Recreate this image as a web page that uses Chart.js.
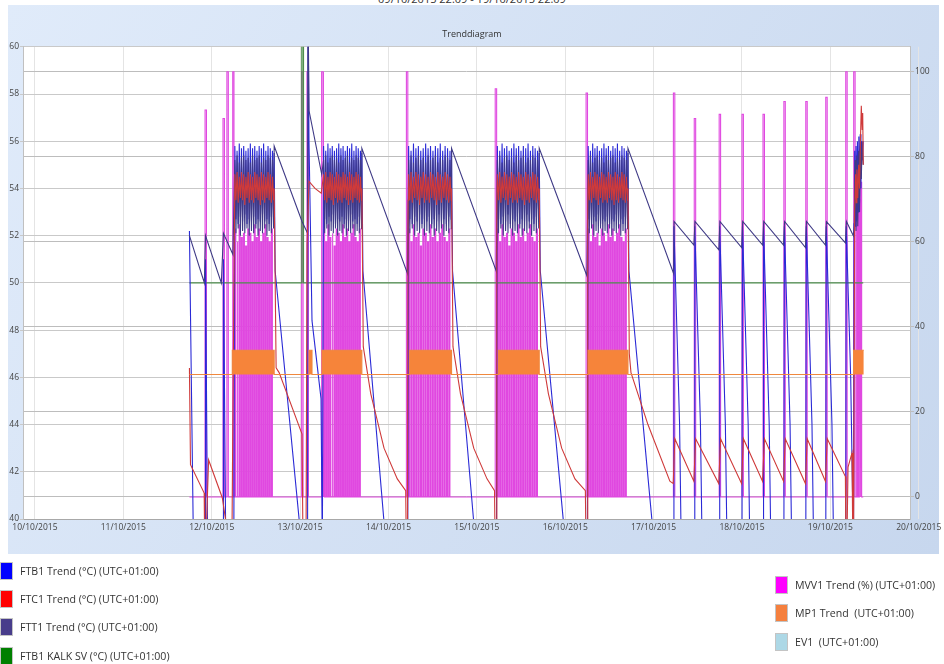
<!DOCTYPE html>
<html>
<head>
<meta charset="utf-8">
<script src="https://cdn.jsdelivr.net/npm/chart.js@4.4.1/dist/chart.umd.min.js"></script>
<style>
  html, body { margin: 0; padding: 0; background: #fff; width: 944px; height: 664px; overflow: hidden; font-family: "Open Sans", sans-serif; }
  #rubrik { position: absolute; left: 0; top: -9px; width: 944px; text-align: center; font-size: 11px; color: #333; }
  #diagram { position: absolute; left: 0; top: 0; }
  .lg { position: absolute; font-size: 10.6px; color: #333; display: flex; align-items: center; white-space: nowrap; height: 18px; }
  .lg i { display: inline-block; width: 11px; height: 16px; border: 1px solid #c4c4c4; margin-right: 7px; }
</style>
</head>
<body>
<div id="rubrik">09/10/2015 22:09 - 19/10/2015 22:09</div>
<canvas id="diagram" width="944" height="664"></canvas>
<div id="legend"></div>
<script>
// ------------------------------------------------------------
// Trenddiagram 09/10 - 19/10/2015
// Tid = dagar efter 10/10/2015 00:00
// ------------------------------------------------------------

const dagEtiketter = ['10/10/2015', '11/10/2015', '12/10/2015', '13/10/2015', '14/10/2015',
    '15/10/2015', '16/10/2015', '17/10/2015', '18/10/2015', '19/10/2015', '20/10/2015'];

// laddningsperioder (tätt pendlande värden)
const laddStart = [2.262, 3.266, 4.228, 5.232, 6.260];
const laddSlut = [2.700, 3.695, 4.710, 5.700, 6.705];

// pendling under laddning (topp/botten omväxlande)
const ftb1Pendel = [55.8, 52.7, 55.6, 52.5, 55.9, 52.8, 55.7, 52.6, 55.8, 52.9, 55.6, 52.5, 55.7, 52.7, 55.9, 52.6, 55.7, 52.8,
    55.8, 52.5, 55.6, 52.7, 55.8, 52.6, 55.7, 52.9, 55.9, 52.6, 55.6, 52.7, 55.8, 52.5, 55.7, 52.8, 55.6, 52.7];
const ftt1Pendel = [55.2, 52.1, 55.4, 52.3, 55.1, 52.0, 55.3, 52.2, 55.4, 52.1, 55.2, 52.3, 55.3, 52.0, 55.1, 52.2, 55.4, 52.1,
    55.2, 52.3, 55.3, 52.0, 55.4, 52.2, 55.1, 52.1, 55.3, 52.3, 55.2, 52.0, 55.4, 52.2, 55.3, 52.1, 55.2, 52.3];
const ftc1Pendel = [54.6, 53.5, 54.7, 53.4, 54.5, 53.6, 54.7, 53.5, 54.6, 53.3, 54.5, 53.6, 54.7, 53.4, 54.6, 53.5, 54.5, 53.4,
    54.7, 53.6, 54.6, 53.5, 54.5, 53.3, 54.7, 53.5, 54.6, 53.4, 54.5, 53.6, 54.7, 53.5, 54.6, 53.4, 54.5, 53.5];
const mvvPendelTopp = [63, 60, 64, 61, 62, 59, 63, 62, 60, 64, 61, 63, 60, 62, 64, 61, 60, 63];

// FTB1 Trend (°C)
const ftb1Punkter = [
    [1.748, 52.2], [1.795, 38.5],
    [1.925, 38.5], [1.930, 51.0], [1.955, 38.5],
    [2.128, 38.5], [2.133, 51.0], [2.160, 38.5], [2.250, 38.5],
    [2.707, 55.5], [2.718, 50.5], [2.989, 40.0], [3.000, 38.5],
    [3.085, 38.5], [3.090, 62.0], [3.101, 56.0], [3.135, 48.4], [3.237, 45.1], [3.252, 38.5],
    [3.699, 55.5], [3.711, 50.5], [3.947, 40.0], [3.960, 38.5], [4.218, 38.5],
    [4.714, 55.5], [4.725, 50.5], [4.962, 40.0], [4.975, 38.5], [5.222, 38.5],
    [5.706, 55.5], [5.718, 50.5], [5.977, 40.0], [5.990, 38.5], [6.250, 38.5],
    [6.710, 55.5], [6.721, 50.5], [6.980, 40.0], [6.992, 38.5],
    [7.224, 38.5], [7.230, 52.4], [7.294, 44.0], [7.314, 38.5],
    [7.460, 38.5], [7.466, 52.4], [7.530, 44.0], [7.550, 38.5],
    [7.742, 38.5], [7.748, 52.4], [7.812, 44.0], [7.832, 38.5],
    [8.000, 38.5], [8.006, 52.4], [8.070, 44.0], [8.090, 38.5],
    [8.238, 38.5], [8.244, 52.4], [8.308, 44.0], [8.328, 38.5],
    [8.474, 38.5], [8.480, 52.4], [8.544, 44.0], [8.564, 38.5],
    [8.722, 38.5], [8.728, 52.4], [8.792, 44.0], [8.812, 38.5],
    [8.948, 38.5], [8.954, 52.4], [9.018, 44.0], [9.038, 38.5],
    [9.174, 38.5], [9.180, 52.4], [9.230, 46.0], [9.262, 38.5],
    [9.268, 52.5], [9.275, 55.6], [9.282, 52.4], [9.290, 55.8], [9.298, 52.6], [9.306, 56.0], [9.314, 53.0],
    [9.322, 56.2], [9.330, 53.4], [9.338, 56.3], [9.346, 54.0], [9.354, 56.0], [9.362, 55.2], [9.372, 56.0]
];

// FTC1 Trend (°C)
const ftc1Punkter = [
    [1.748, 46.4], [1.760, 42.3], [1.915, 41.1], [1.922, 38.5], [1.930, 38.5], [1.965, 42.5],
    [2.120, 40.9], [2.216, 38.5], [2.228, 38.5], [2.236, 42.6],
    [2.707, 54.0], [2.729, 46.4], [2.763, 46.2], [3.022, 43.6], [3.034, 38.5], [3.067, 38.5],
    [3.079, 51.6], [3.101, 54.3], [3.169, 54.0], [3.240, 53.8],
    [3.699, 54.0], [3.715, 47.3], [3.800, 45.3], [3.950, 43.0], [4.100, 41.7], [4.195, 41.2], [4.203, 38.5], [4.215, 38.5], [4.222, 53.5],
    [4.714, 54.0], [4.730, 47.3], [4.815, 45.3], [4.965, 43.0], [5.115, 41.7], [5.200, 41.2], [5.208, 38.5], [5.218, 38.5], [5.226, 53.5],
    [5.706, 54.0], [5.722, 47.3], [5.810, 45.3], [5.960, 43.0], [6.110, 41.7], [6.228, 41.2], [6.236, 38.5], [6.248, 38.5], [6.255, 53.5],
    [6.710, 54.0], [6.725, 47.0], [6.744, 46.2], [6.936, 44.0], [7.184, 41.6], [7.222, 41.5],
    [7.240, 43.4], [7.455, 41.6], [7.476, 43.4], [7.737, 41.5], [7.758, 43.4], [7.995, 41.5],
    [8.016, 43.4], [8.232, 41.6], [8.254, 43.4], [8.470, 41.6], [8.490, 43.4], [8.718, 41.5],
    [8.738, 43.4], [8.944, 41.6], [8.965, 43.4], [9.170, 41.8], [9.176, 38.5], [9.186, 38.5],
    [9.200, 42.2], [9.245, 42.8], [9.255, 38.5], [9.262, 38.5],
    [9.275, 53.0], [9.285, 54.6], [9.293, 53.4], [9.300, 54.8], [9.310, 53.6], [9.320, 55.0],
    [9.330, 54.0], [9.340, 56.0], [9.350, 57.5], [9.360, 56.5], [9.366, 57.2], [9.372, 55.0]
];

// FTT1 Trend (°C)
const ftt1Punkter = [
    [1.748, 52.0], [1.917, 50.0], [1.930, 52.0], [2.109, 50.0], [2.133, 52.1], [2.240, 51.2],
    [2.707, 55.8], [3.022, 52.6], [3.085, 52.1], [3.090, 62.0], [3.101, 57.3], [3.245, 54.6],
    [3.699, 55.7], [4.215, 50.4],
    [4.714, 55.7], [5.220, 50.5],
    [5.706, 55.7], [6.245, 50.3],
    [6.710, 55.7], [7.226, 50.4],
    [7.232, 52.6], [7.456, 51.6], [7.468, 52.6], [7.738, 51.4], [7.750, 52.6], [7.996, 51.5],
    [8.008, 52.6], [8.234, 51.6], [8.246, 52.6], [8.470, 51.6], [8.482, 52.6], [8.718, 51.5],
    [8.730, 52.6], [8.944, 51.6], [8.956, 52.6], [9.170, 51.7], [9.182, 52.6], [9.260, 52.0],
    [9.270, 52.4], [9.280, 55.2], [9.290, 52.2], [9.300, 55.4], [9.310, 52.4], [9.320, 55.6],
    [9.330, 53.0], [9.340, 55.8], [9.350, 54.4], [9.360, 56.0], [9.372, 55.0]
];

// FTB1 KALK SV (°C)
const kalkPunkter = [[1.748, 50], [3.020, 50], [3.020, 62], [3.038, 62], [3.038, 50], [9.372, 50]];

// MVV1 Trend (%) - enstaka pulser utanför laddning
const mvvStart = 1.748;
const mvvSlut = 9.372;
const mvvPulsStart = [1.925, 2.128, 2.172, 2.238, 3.018, 3.078, 3.244, 4.203, 5.208, 6.236,
    7.224, 7.460, 7.742, 8.000, 8.238, 8.474, 8.722, 8.948, 9.174, 9.264, 9.292, 9.310, 9.328, 9.346];
const mvvPulsSlut = [1.941, 2.144, 2.188, 2.252, 3.034, 3.094, 3.260, 4.219, 5.224, 6.252,
    7.240, 7.476, 7.758, 8.016, 8.254, 8.490, 8.738, 8.964, 9.190, 9.280, 9.300, 9.318, 9.336, 9.354];
const mvvPulsTopp = [91, 89, 100, 100, 100, 100, 100, 100, 96, 95,
    95, 89, 90, 90, 90, 93, 93, 94, 100, 100, 72, 76, 70, 74];

// MP1 Trend
const mp1Punkter = [
    [1.748, 28.8], [2.233, 28.8], [2.233, 34.5], [2.707, 34.5], [2.707, 28.8],
    [3.101, 28.8], [3.101, 34.5], [3.135, 34.5], [3.135, 28.8],
    [3.248, 28.8], [3.248, 34.5], [3.699, 34.5], [3.699, 28.8],
    [4.240, 28.8], [4.240, 34.5], [4.714, 34.5], [4.714, 28.8],
    [5.244, 28.8], [5.244, 34.5], [5.706, 34.5], [5.706, 28.8],
    [6.259, 28.8], [6.259, 34.5], [6.710, 34.5], [6.710, 28.8],
    [9.262, 28.8], [9.262, 34.5], [9.378, 34.5]
];

// EV1 - inga synliga värden
const ev1Punkter = [];

// ── hjälpfunktioner ──────────────────────────────────────────
function tillXY(lista) {
    return lista.map(p => ({ x: p[0], y: p[1] }));
}

function medPendling(lista, pendel) {
    const p = tillXY(lista);
    laddStart.forEach((s, b) => {
        const steg = (laddSlut[b] - s) / (pendel.length - 1);
        pendel.forEach((v, i) => p.push({ x: s + i * steg, y: v }));
    });
    return p.sort((a, b) => a.x - b.x);
}

function byggMvv() {
    const p = [{ x: mvvStart, y: 0 }, { x: mvvSlut, y: 0 }];
    mvvPulsStart.forEach((t, i) => {
        const h = mvvPulsTopp[i];
        p.push({ x: t, y: 0 }, { x: t, y: h }, { x: mvvPulsSlut[i], y: h }, { x: mvvPulsSlut[i], y: 0 });
    });
    laddStart.forEach((s, b) => {
        const steg = (laddSlut[b] - s) / mvvPendelTopp.length;
        mvvPendelTopp.forEach((h, i) => {
            const t = s + i * steg;
            const t2 = t + steg * 0.45;
            p.push({ x: t, y: 0 }, { x: t, y: h }, { x: t2, y: h }, { x: t2, y: 0 });
        });
    });
    return p.sort((a, b) => a.x - b.x);
}

// bakgrund: blå panel + vit rityta
const panelPlugin = {
    id: 'panel',
    beforeDraw(chart) {
        const { ctx, chartArea: a } = chart;
        ctx.save();
        const g = ctx.createLinearGradient(8, 5, 939, 554);
        g.addColorStop(0, '#e0ebfa');
        g.addColorStop(1, '#c7d7ee');
        ctx.fillStyle = g;
        ctx.fillRect(8, 5, 931, 549);
        ctx.fillStyle = '#ffffff';
        ctx.fillRect(a.left, a.top, a.right - a.left, a.bottom - a.top);
        ctx.restore();
    }
};

const linje = (etikett, data, farg, axel, ordning, bredd) => ({
    label: etikett, data, borderColor: farg, backgroundColor: farg, yAxisID: axel,
    order: ordning, borderWidth: bredd || 1.1, pointRadius: 0, tension: 0, fill: false
});

const axelFont = { family: '"Open Sans", sans-serif', size: 8.5 };

new Chart(document.getElementById('diagram'), {
    type: 'line',
    data: {
        datasets: [
            Object.assign(linje('MP1 Trend  (UTC+01:00)', tillXY(mp1Punkter), '#f0883e', 'yH', 0, 1.1),
                { fill: { value: 28.8 }, backgroundColor: '#f6843a' }),
            linje('FTC1 Trend (°C) (UTC+01:00)', medPendling(ftc1Punkter, ftc1Pendel), '#cf3a3a', 'yV', 1),
            linje('FTT1 Trend (°C) (UTC+01:00)', medPendling(ftt1Punkter, ftt1Pendel), '#3f3a86', 'yV', 2),
            linje('FTB1 Trend (°C) (UTC+01:00)', medPendling(ftb1Punkter, ftb1Pendel), '#2a2ad6', 'yV', 3),
            linje('FTB1 KALK SV (°C) (UTC+01:00)', tillXY(kalkPunkter), '#4d8d4d', 'yV', 4, 1.3),
            linje('MVV1 Trend (%) (UTC+01:00)', byggMvv(), '#e048e0', 'yH', 5, 1.1),
            linje('EV1  (UTC+01:00)', tillXY(ev1Punkter), '#add8e6', 'yH', 6)
        ]
    },
    options: {
        responsive: false, animation: false, events: [],
        layout: { padding: { top: 29, bottom: 125, left: 0, right: 0 } },
        plugins: {
            legend: { display: false },
            tooltip: { enabled: false },
            title: {
                display: true, text: 'Trenddiagram', color: '#333',
                font: { family: '"Open Sans", sans-serif', size: 9, weight: 'normal', lineHeight: 1.2 },
                padding: { top: 0, bottom: 7 }
            }
        },
        scales: {
            x: {
                type: 'linear', min: -0.135, max: 9.902,
                afterBuildTicks: ax => { ax.ticks = dagEtiketter.map((_, i) => ({ value: i })); },
                afterFit: ax => { ax.height = 20; },
                ticks: { autoSkip: false, maxRotation: 0, includeBounds: false, padding: 3, color: '#444', font: axelFont,
                    callback: v => dagEtiketter[v] },
                grid: { color: '#e4e4e4', drawTicks: false },
                border: { color: '#a8a8a8' }
            },
            yV: {
                position: 'left', min: 40, max: 60,
                afterFit: ax => { ax.width = 23; },
                ticks: { stepSize: 2, padding: 1, color: '#444', font: axelFont, includeBounds: false },
                grid: { color: '#c9c9c9', tickLength: 3 },
                border: { color: '#c0c0c0' }
            },
            yH: {
                position: 'right', min: -5.18, max: 105.88,
                afterFit: ax => { ax.width = 31; },
                ticks: { stepSize: 20, padding: 1, color: '#444', font: axelFont, includeBounds: false },
                grid: { color: '#bdbdbd', tickLength: 4 },
                border: { color: '#c0c0c0' }
            }
        }
    },
    plugins: [panelPlugin]
});

// ── förklaring (HTML) ──
const forklaring = [
    { text: 'FTB1 Trend (°C) (UTC+01:00)', farg: '#0000ff', x: 0, y: 571 },
    { text: 'FTC1 Trend (°C) (UTC+01:00)', farg: '#ff0000', x: 0, y: 599 },
    { text: 'FTT1 Trend (°C) (UTC+01:00)', farg: '#483d8b', x: 0, y: 627 },
    { text: 'FTB1 KALK SV (°C) (UTC+01:00)', farg: '#008000', x: 0, y: 656 },
    { text: 'MVV1 Trend (%) (UTC+01:00)', farg: '#ff00ff', x: 775, y: 585 },
    { text: 'MP1 Trend  (UTC+01:00)', farg: '#f5803e', x: 775, y: 613 },
    { text: 'EV1  (UTC+01:00)', farg: '#add8e6', x: 775, y: 642 }
];
document.getElementById('legend').innerHTML = forklaring.map(f =>
    `<div class="lg" style="left:${f.x}px;top:${f.y - 9}px"><i style="background:${f.farg}"></i>${f.text.replace(/ {2}/g, '&nbsp; ')}</div>`
).join('');
</script>
</body>
</html>
